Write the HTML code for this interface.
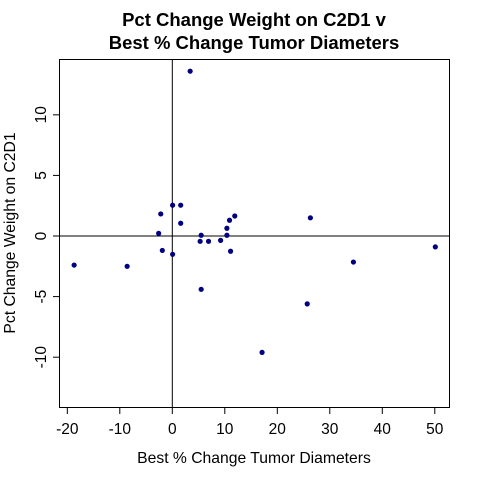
<!DOCTYPE html>
<html><head><meta charset="utf-8"><style>body{margin:0;background:#fff}svg{display:block;font-family:"Liberation Sans",Arial,sans-serif}</style></head>
<body>
<svg id="chart" width="480" height="480">
<text x="254" y="26" text-anchor="middle" font-size="18.5" font-weight="bold">Pct Change Weight on C2D1 v</text>
<text x="254" y="49" text-anchor="middle" font-size="18.5" font-weight="bold">Best % Change Tumor Diameters</text>
<rect x="59.5" y="59.5" width="390" height="348" fill="none" stroke="#000"/>
<g id="axes"></g>
<g id="points"></g>
<text x="254" y="463" text-anchor="middle" font-size="15.7">Best % Change Tumor Diameters</text>
<text transform="translate(15,233) rotate(-90)" text-anchor="middle" font-size="15.7">Pct Change Weight on C2D1</text>
</svg>
<script>
const xVals=[0.06,1.6,-2.2,1.6,-2.6,5.5,5.3,6.9,9.2,10.4,10.4,10.9,11.9,-1.9,0.06,11.1,3.4,-18.7,-8.6,5.5,26.3,25.7,34.5,50.1,17.1];
const yVals=[2.54,2.54,1.82,1.05,0.22,0.06,-0.44,-0.44,-0.36,0.06,0.64,1.3,1.65,-1.19,-1.51,-1.26,13.6,-2.4,-2.5,-4.4,1.5,-5.6,-2.15,-0.9,-9.6];
const xTicks=[-20,-10,0,10,20,30,40,50];
const yTicks=[-10,-5,0,5,10];
const NS="http://www.w3.org/2000/svg";
const sx=v=>172.3+v*5.25;
const sy=v=>236+(-v)*12.12;
const ax=document.getElementById('axes'), pg=document.getElementById('points');
function mk(t,a,p){const e=document.createElementNS(NS,t);for(const k in a)e.setAttribute(k,a[k]);p.appendChild(e);return e;}
xTicks.forEach(t=>{const x=sx(t);
const l=mk('line',{x1:x,x2:x,y1:407.5,y2:414,stroke:'#000'},ax);


const tx=mk('text',{x:x,y:434,'text-anchor':'middle','font-size':'15.5'},ax);tx.textContent=t;

});
yTicks.forEach(t=>{const y=sy(t);
const l=mk('line',{x1:53,x2:59.5,y1:y,y2:y,stroke:'#000'},ax);


const tx=mk('text',{x:0,y:0,'text-anchor':'middle','font-size':'15.5',transform:`translate(46,${y}) rotate(-90)`},ax);tx.textContent=t;

});
const v=mk('line',{x1:sx(0),x2:sx(0),y1:59.5,y2:407.5,stroke:'#000'},ax);


const h=mk('line',{x1:59.5,x2:449.5,y1:sy(0),y2:sy(0),stroke:'#000'},ax);


xVals.forEach((xv,i)=>{const c=mk('circle',{cx:sx(xv),cy:sy(yVals[i]),r:2.6,fill:'#000080'},pg);

});
</script>
</body></html>
